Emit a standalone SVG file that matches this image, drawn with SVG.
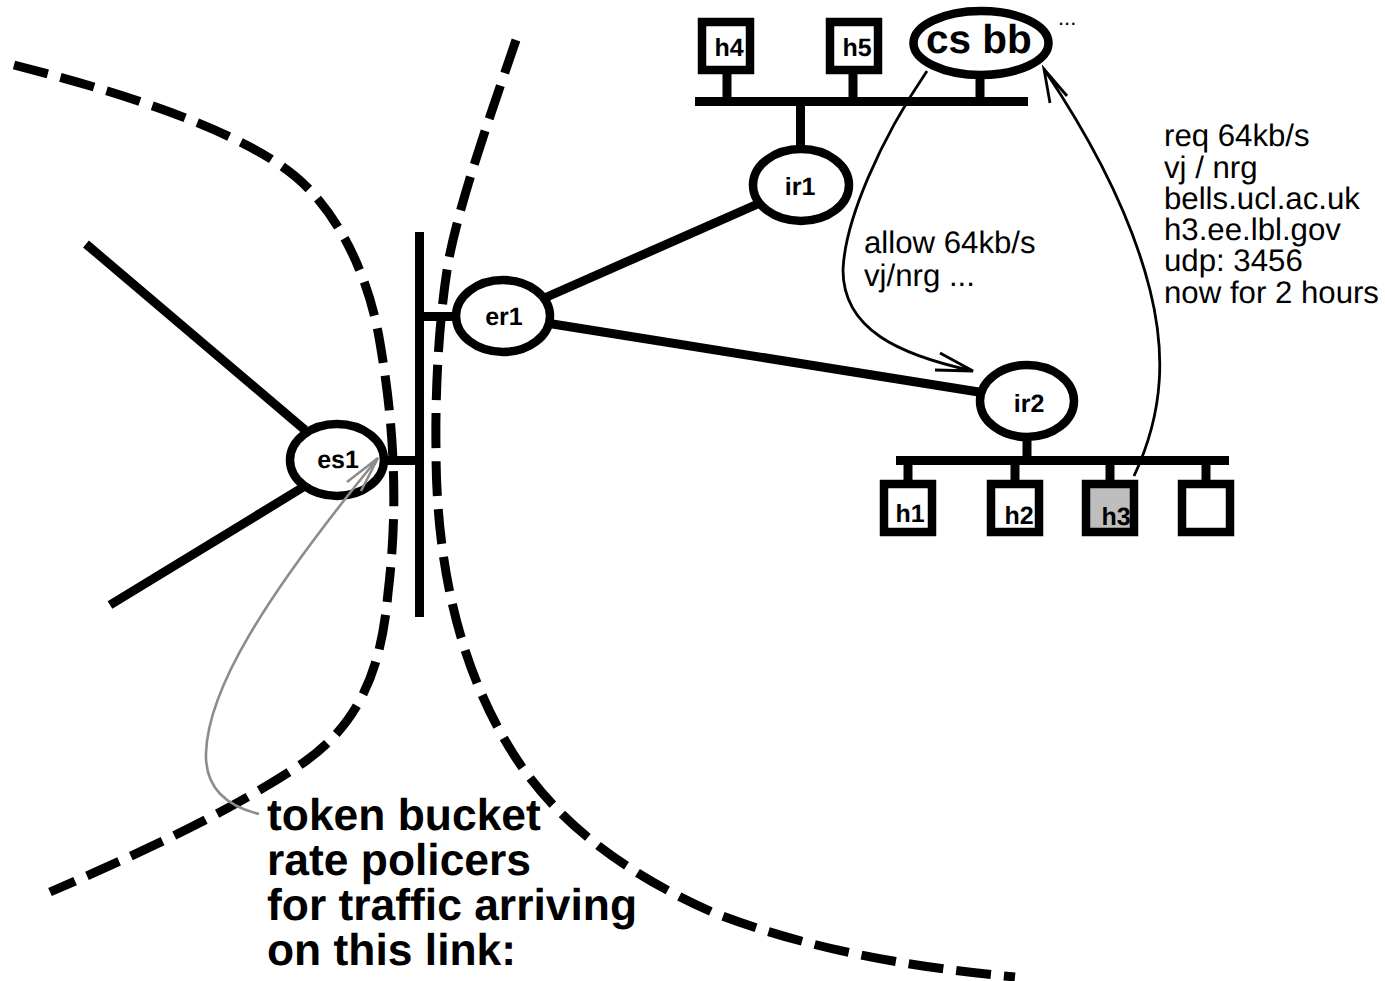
<svg xmlns="http://www.w3.org/2000/svg" width="1385" height="981" viewBox="0 0 1385 981">
<style>
.l{fill:none;stroke:#000;stroke-width:9}
.d{fill:none;stroke:#000;stroke-width:9;stroke-dasharray:35 13}
.n{fill:#fff;stroke:#000;stroke-width:8.5}
.h{fill:#fff;stroke:#000;stroke-width:8.5}
.thin{fill:none;stroke:#000;stroke-width:2.8}
.g{fill:none;stroke:#8c8c8c;stroke-width:2.6}
text{font-family:"Liberation Sans",Arial,sans-serif;fill:#000;text-rendering:geometricPrecision}
.t{font-size:25px;font-weight:bold;text-anchor:middle}
.m{font-size:31.2px}
.big{font-size:44.4px;font-weight:bold}
.cs{font-size:40.5px;font-weight:bold}
</style>
<rect width="1385" height="981" fill="#fff"/>
<g id="boundaries">
<path class="d" d="M14 65C120 92 240 130 296 177C340 214 370 280 380 343C395 430 398 510 388 593C382 660 365 720 303 763C225 815 135 855 50 892"/>
<path class="d" d="M516 40C487 125 462 195 449 258C440 310 435 380 436 450C436 570 462 680 522 767C570 835 640 880 712 912C810 950 910 967 1015 977"/>
</g>
<g id="connectors">
<path class="l" d="M86 244L305 430M110 605L305 486M540 300L760 203M540 322L985 393"/>
<path class="l" d="M419.5 232V617M419.5 316.5H460M385 460.5H419.5"/>
<path class="l" d="M695 101.5H1028M727 72V101M853 72V101M980 75V101M800.500 101V150"/>
<path class="l" d="M896 460.500H1229M1027 435V460M908 460V482M1015 460V482M1110 460V482M1206 460V482"/>
</g>
<g id="es1"><ellipse class="n" cx="337" cy="460" rx="47" ry="36"/><text class="t" x="338" y="468">es1</text></g>
<g id="er1"><ellipse class="n" cx="503" cy="316" rx="47" ry="36"/><text class="t" x="504" y="325">er1</text></g>
<g id="ir1"><ellipse class="n" cx="801" cy="185" rx="48" ry="36"/><text class="t" x="800" y="195">ir1</text></g>
<g id="ir2"><ellipse class="n" cx="1027" cy="401" rx="47" ry="36"/><text class="t" x="1029" y="412">ir2</text></g>
<g id="csbb"><ellipse class="n" cx="981" cy="43" rx="67.500" ry="32"/><text class="cs" x="926" y="53">cs bb</text></g>
<g id="h4"><rect class="h" x="702" y="22" width="48" height="48"/><text class="t" x="729" y="56">h4</text></g>
<g id="h5"><rect class="h" x="830" y="22" width="48" height="48"/><text class="t" x="857" y="56">h5</text></g>
<g id="h1"><rect class="h" x="884" y="484" width="48" height="48"/><text class="t" x="910" y="522">h1</text></g>
<g id="h2"><rect class="h" x="991" y="484" width="48" height="48"/><text class="t" x="1019" y="524">h2</text></g>
<g id="h3"><rect class="h" style="fill:#bebebe" x="1086" y="484" width="48" height="48"/><text class="t" x="1116" y="525">h3</text></g>
<g id="hx"><rect class="h" x="1182" y="484" width="48" height="48"/></g>
<g id="messages">
<path class="thin" d="M927 71C880 140 845 220 843 270C843 330 900 355 973 371M940 353L973 371L935 370"/>
<path class="thin" d="M1134 476C1165 410 1165 350 1150 290C1130 210 1085 130 1044 69M1050 103L1044 69L1067 96"/>
<path class="g" d="M259 814C222 805 205 785 206 753C208 690 262 600 378 458M347 482L378 458L361 491"/>
</g>
<g id="labels">
<text class="m" x="864" y="253">allow 64kb/s</text>
<text class="m" x="864" y="286">vj/nrg ...</text>
<text class="m" x="1164" y="146">req 64kb/s</text>
<text class="m" x="1164" y="178">vj / nrg</text>
<text class="m" x="1164" y="209">bells.ucl.ac.uk</text>
<text class="m" x="1164" y="240">h3.ee.lbl.gov</text>
<text class="m" x="1164" y="271">udp: 3456</text>
<text class="m" x="1164" y="303">now for 2 hours</text>
<text x="1058" y="25" font-size="22">...</text>
<text class="big" x="267" y="830">token bucket</text>
<text class="big" x="267" y="875">rate policers</text>
<text class="big" x="267" y="920">for traffic arriving</text>
<text class="big" x="267" y="965">on this link:</text>
</g>
</svg>
